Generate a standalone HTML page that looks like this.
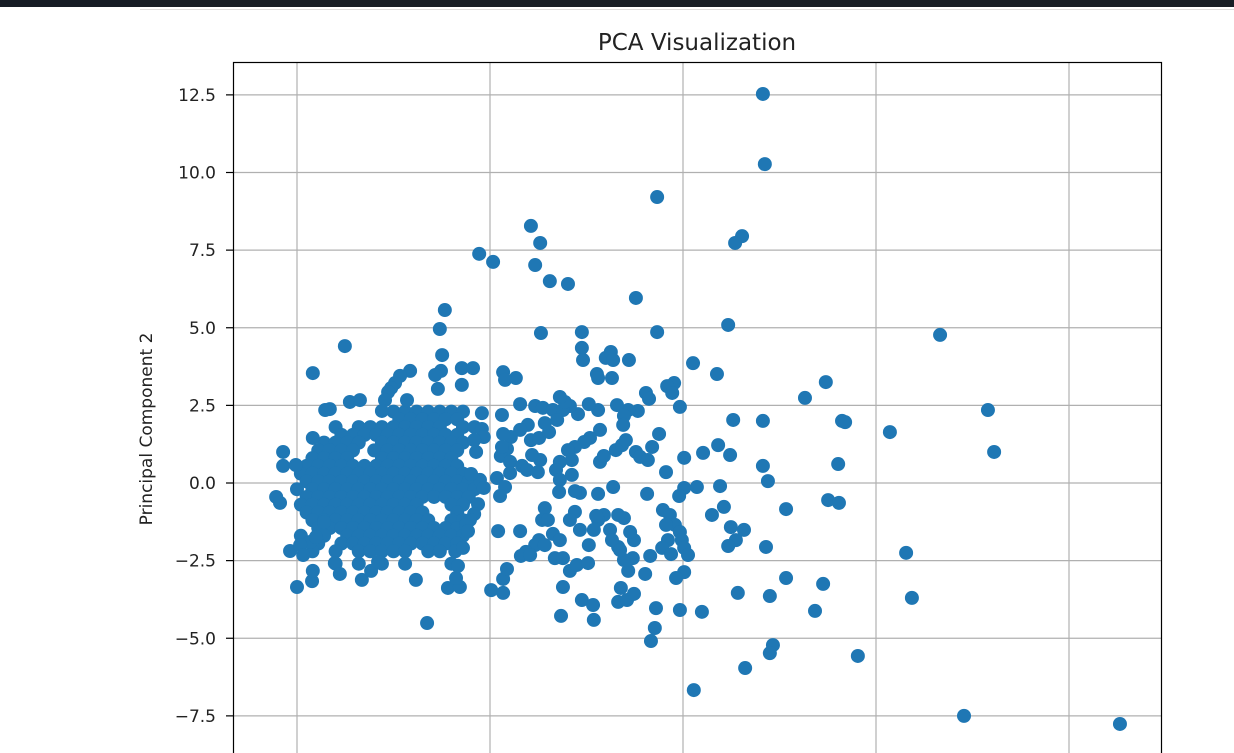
<!DOCTYPE html>
<html><head><meta charset="utf-8"><style>
html,body{margin:0;padding:0;background:#fff;width:1234px;height:753px;overflow:hidden}
svg{display:block;font-family:"DejaVu Sans","Liberation Sans",sans-serif}
</style></head><body>
<svg id="chart" width="1234" height="753">
<rect x="0" y="0" width="1234" height="7" fill="#171d25"/>
<line x1="140" y1="9.5" x2="1234" y2="9.5" stroke="#dddddd" stroke-width="1"/>
<text x="697" y="50" font-size="23" text-anchor="middle" fill="#222">PCA Visualization</text>
<text transform="translate(152,429) rotate(-90)" font-size="17" text-anchor="middle" fill="#222">Principal Component 2</text>
<g id="grid"></g><g id="ticks"></g><g id="marks"></g>
<rect x="233.5" y="62.5" width="928" height="700" fill="none" stroke="#000" stroke-width="1.2"/>
</svg>
<script>
const xTicks = [-5, 0, 5, 10, 15];
const yTicks = [12.5, 10.0, 7.5, 5.0, 2.5, 0.0, -2.5, -5.0, -7.5];
const yTickLabels = ["12.5", "10.0", "7.5", "5.0", "2.5", "0.0", "\u22122.5", "\u22125.0", "\u22127.5"];
const clusterRowsY = [2.3, 2.05, 1.8, 1.55, 1.3, 1.05, 0.8, 0.55, 0.3, 0.05, -0.2, -0.45, -0.7, -0.95, -1.2, -1.45, -1.7, -1.95, -2.2, -2.6];
const clusterRowsX = [
 [-2.5,-2.2,-1.9,-1.6,-1.3,-1.0,-0.7],
 [-2.35,-2.05,-1.75,-1.45,-1.15,-0.85],
 [-4.0,-3.4,-3.1,-2.8,-2.5,-2.2,-1.9,-1.6,-1.3,-0.7,-0.4],
 [-3.85,-3.55,-3.25,-2.95,-2.65,-2.35,-2.05,-1.75,-1.45,-1.15,-0.85],
 [-4.3,-4.0,-3.7,-3.4,-2.8,-2.5,-2.2,-1.9,-1.6,-1.3,-1.0,-0.7],
 [-4.45,-4.15,-3.85,-3.55,-3.0,-2.65,-2.35,-2.05,-1.75,-1.45,-1.15,-0.85],
 [-4.6,-4.3,-4.0,-3.7,-2.8,-2.5,-2.2,-1.9,-1.6,-1.3,-1.0],
 [-4.75,-4.45,-4.15,-3.85,-3.55,-3.25,-2.95,-2.65,-2.35,-2.05,-1.75,-1.45,-1.15,-0.85],
 [-4.9,-4.6,-4.3,-4.0,-3.7,-3.4,-3.1,-2.8,-2.5,-2.2,-1.9,-1.6,-1.3,-1.0,-0.7],
 [-4.75,-4.45,-4.15,-3.85,-3.55,-3.25,-2.95,-2.65,-2.35,-2.05,-1.75,-1.45,-1.15,-0.85,-0.55],
 [-5.0,-4.6,-4.3,-4.0,-3.7,-3.4,-3.1,-2.8,-2.5,-2.2,-1.9,-1.6,-1.3,-1.0,-0.7,-0.4],
 [-4.75,-4.45,-4.15,-3.85,-3.55,-3.25,-2.95,-2.65,-2.35,-2.05,-1.75,-1.45,-1.15,-0.85,-0.55],
 [-4.9,-4.6,-4.3,-4.0,-3.7,-3.4,-3.1,-2.8,-2.5,-2.2,-1.9,-1.0,-0.7],
 [-4.75,-4.45,-4.15,-3.85,-3.55,-3.25,-2.95,-2.65,-2.35,-2.05,-1.75,-0.85],
 [-4.6,-4.3,-4.0,-3.7,-3.4,-3.1,-2.8,-2.5,-2.2,-1.9,-1.6,-1.0,-0.7],
 [-4.45,-4.15,-3.85,-3.55,-3.25,-2.95,-2.65,-2.35,-2.05,-1.75,-1.45,-1.15,-0.85],
 [-4.9,-4.3,-3.7,-3.4,-3.1,-2.8,-2.5,-2.2,-1.9,-1.6,-1.3,-1.0,-0.7],
 [-4.45,-3.85,-3.55,-3.25,-2.95,-2.65,-2.35,-2.05,-1.75,-1.45,-1.15,-0.85],
 [-4.6,-4.0,-3.4,-3.1,-2.8,-2.5,-2.2,-1.6,-1.3,-0.9],
 [-4.0,-3.4,-2.8,-2.2,-1.0]
];
const leftPoints = [[-3.76,4.41],[-4.59,3.54],[-1.17,5.57],[-1.3,4.96],[-1.24,4.12],[-1.27,3.61],[-1.42,3.48],[-1.35,3.03],[-2.07,3.61],[-2.33,3.45],[-2.46,3.22],[-2.56,3.06],[-2.64,2.93],[-2.72,2.67],[-2.8,2.32],[-2.15,2.67],[-4.15,2.38],[-4.27,2.35],[-3.63,2.61],[-3.37,2.67],[-5.36,1.0],[-5.36,0.55],[-5.03,0.58],[-5.54,-0.45],[-5.44,-0.64],[-4.59,1.45],[-5.18,-2.19],[-5.0,-3.35],[-4.61,-3.16],[-4.59,-2.83],[-4.66,-1.9],[-4.51,-1.74],[-4.3,-1.26],[-1.63,-4.51],[-1.92,-3.12],[-1.09,-3.38],[-0.78,-3.35],[-0.88,-3.06],[-0.83,-2.67],[-0.7,-2.09],[-4.92,-2.0],[-4.84,-2.32],[-4.02,-2.58],[-3.89,-2.93],[-3.32,-3.12],[-3.08,-2.83],[-2.9,-2.54]];
const midPoints = [[1.06,8.28],[1.30,7.73],[1.17,7.02],[1.55,6.5],[2.02,6.41],[-0.28,7.38],[0.08,7.12],[3.78,5.96],[4.33,4.86],[4.92,2.45],[4.77,3.22],[4.59,3.12],[4.72,2.9],[4.04,2.9],[4.12,2.71],[3.83,2.32],[3.58,2.35],[4.38,1.58],[4.2,1.16],[3.78,1.0],[3.89,0.84],[4.09,0.74],[4.56,0.35],[5.03,0.81],[5.03,-0.16],[4.07,-0.35],[4.9,-0.42],[4.48,-0.87],[4.66,-1.03],[4.79,-1.35],[4.92,-1.58],[4.97,-1.84],[5.03,-2.09],[5.13,-2.32],[4.56,-1.35],[4.61,-1.84],[4.46,-2.09],[4.15,-2.35],[4.69,-2.29],[5.03,-2.87],[4.82,-3.06],[4.02,-2.93],[3.58,-2.83],[3.7,-2.42],[3.32,-2.06],[3.47,-2.48],[3.73,-1.84],[3.63,-1.58],[3.47,-1.13],[3.32,-1.03],[2.95,-1.03],[2.8,-1.19],[3.11,-1.51],[3.16,-1.84],[3.37,-2.16],[3.19,-0.13],[2.8,-0.35],[2.33,-0.32],[2.85,0.68],[2.95,0.87],[3.26,1.06],[3.42,1.22],[3.52,1.38],[3.0,4.03],[3.13,4.22],[3.19,3.96],[3.6,3.96],[2.38,4.35],[2.41,3.96],[2.38,4.86],[2.77,3.51],[2.8,3.38],[3.16,3.38],[3.29,2.51],[3.47,2.16],[3.45,1.87],[2.8,2.35],[2.56,2.54],[2.28,2.22],[2.07,2.48],[2.85,1.71],[2.59,1.45],[2.44,1.32],[2.2,1.16],[2.02,1.06],[2.12,0.74],[1.81,0.68],[1.71,0.42],[2.12,0.26],[1.81,0.1],[1.79,-0.29],[2.2,-0.26],[1.42,-0.81],[1.35,-1.19],[1.5,-1.19],[1.63,-1.64],[1.27,-1.84],[1.17,-2.0],[0.93,-2.22],[0.8,-2.35],[1.04,-2.32],[1.42,-2.0],[1.68,-2.42],[1.89,-2.42],[2.07,-2.83],[2.25,-2.64],[2.54,-2.58],[2.56,-2.0],[2.69,-1.51],[2.75,-1.06],[1.32,4.83],[0.78,2.54],[1.17,2.48],[1.37,2.42],[1.63,2.35],[1.89,2.35],[1.94,2.61],[1.81,2.77],[1.74,2.03],[1.06,1.38],[1.27,1.45],[1.53,1.64],[1.42,1.93],[0.98,1.87],[0.78,1.71],[0.54,1.48],[0.44,1.1],[0.28,0.87],[0.52,0.68],[0.83,0.55],[0.96,0.42],[1.24,0.35],[1.3,0.74],[1.09,0.9],[0.34,3.57],[0.67,3.38],[0.39,3.32],[0.31,2.19],[0.34,1.58],[0.31,1.16],[0.52,0.32],[0.18,0.16],[0.39,-0.13],[0.26,-0.42],[0.21,-1.55],[-0.26,0.1],[-0.16,-0.16],[-0.49,0.29],[-0.31,-0.68],[-0.41,-1.0],[-0.52,-1.19],[-0.62,-1.35],[-0.57,-1.55],[0.03,-3.45],[0.34,-3.09],[0.34,-3.54],[0.44,-2.77],[0.78,-1.55],[-0.21,2.25],[-0.21,1.74],[-0.16,1.48],[-0.41,1.38],[-0.36,1.0],[-0.73,3.7],[-0.44,3.7],[-0.73,3.16],[1.89,-3.35],[1.84,-4.28],[2.38,-3.77],[2.67,-3.93],[2.69,-4.41],[3.32,-3.83],[3.55,-3.77],[3.73,-3.57],[3.39,-3.38],[2.2,-0.93],[2.07,-1.19],[2.33,-1.51],[1.81,-1.84]];
const rightPoints = [[7.07,12.53],[7.12,10.27],[4.33,9.21],[6.53,7.95],[6.35,7.73],[6.17,5.09],[11.66,4.77],[12.9,2.35],[13.06,1.0],[10.36,1.64],[8.7,3.25],[8.16,2.74],[9.12,2.0],[9.2,1.96],[9.02,0.61],[7.07,2.0],[6.3,2.03],[7.07,0.55],[7.2,0.06],[7.67,-0.84],[8.76,-0.55],[9.04,-0.64],[10.78,-2.25],[10.93,-3.7],[9.53,-5.57],[12.28,-7.5],[16.32,-7.76],[8.63,-3.25],[8.42,-4.12],[7.67,-3.06],[7.25,-3.64],[7.33,-5.22],[7.25,-5.48],[6.61,-5.96],[5.28,-6.67],[7.15,-2.06],[6.42,-3.54],[5.49,-4.15],[4.92,-4.09],[4.3,-4.03],[4.27,-4.67],[4.17,-5.09],[5.88,3.51],[5.91,1.22],[6.22,0.9],[5.52,0.97],[5.26,3.86],[5.96,-0.1],[5.36,-0.13],[5.75,-1.03],[6.06,-0.77],[6.24,-1.42],[6.58,-1.51],[6.37,-1.84],[6.17,-2.03]];

const NS = "http://www.w3.org/2000/svg";
const X0 = 490, XS = 38.6, Y0 = 483, YS = 31.05;
function xScale(v){ return X0 + v * XS; }
function yScale(v){ return Y0 - v * YS; }
const grid = document.getElementById('grid');
const ticks = document.getElementById('ticks');
const marks = document.getElementById('marks');
xTicks.forEach(function(t){
  const l = document.createElementNS(NS,'line');
  l.setAttribute('x1', xScale(t)); l.setAttribute('x2', xScale(t));
  l.setAttribute('y1', 62); l.setAttribute('y2', 753);
  l.setAttribute('stroke', '#b0b0b0'); l.setAttribute('stroke-width', '1.2');
  
  
  grid.appendChild(l);
});
yTicks.forEach(function(t, i){
  const y = yScale(t);
  const l = document.createElementNS(NS,'line');
  l.setAttribute('x1', 233); l.setAttribute('x2', 1162);
  l.setAttribute('y1', y); l.setAttribute('y2', y);
  l.setAttribute('stroke', '#b0b0b0'); l.setAttribute('stroke-width', '1.2');
  
  
  grid.appendChild(l);
  const tk = document.createElementNS(NS,'line');
  tk.setAttribute('x1', 226); tk.setAttribute('x2', 233);
  tk.setAttribute('y1', y); tk.setAttribute('y2', y);
  tk.setAttribute('stroke', '#000'); tk.setAttribute('stroke-width', '1.2');
  
  
  ticks.appendChild(tk);
  const tx = document.createElementNS(NS,'text');
  tx.setAttribute('x', 216); tx.setAttribute('y', y + 6);
  tx.setAttribute('text-anchor', 'end'); tx.setAttribute('font-size', '17'); tx.setAttribute('fill', '#222');
  tx.textContent = yTickLabels[i];
  
  
  ticks.appendChild(tx);
});
function drawPoint(x, y){
  const c = document.createElementNS(NS,'circle');
  c.setAttribute('cx', xScale(x)); c.setAttribute('cy', yScale(y));
  c.setAttribute('r', 7); c.setAttribute('fill', '#1f77b4');
  
  
  marks.appendChild(c);
}
clusterRowsY.forEach(function(y, i){ clusterRowsX[i].forEach(function(x){ drawPoint(x, y); }); });
leftPoints.forEach(function(p){ drawPoint(p[0], p[1]); });
midPoints.forEach(function(p){ drawPoint(p[0], p[1]); });
rightPoints.forEach(function(p){ drawPoint(p[0], p[1]); });
</script>
</body></html>
